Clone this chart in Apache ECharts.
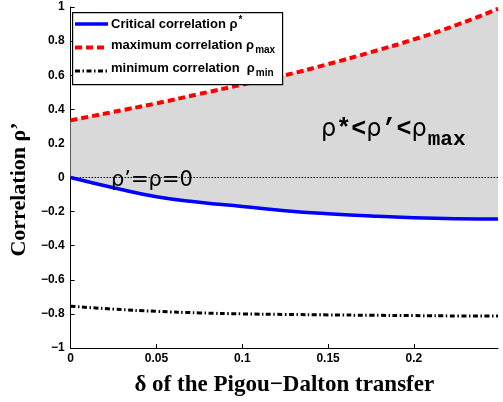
<!DOCTYPE html>
<html><head><meta charset="utf-8">
<script src="https://cdn.jsdelivr.net/npm/echarts@6/dist/echarts.min.js"></script>
<style>html,body{margin:0;padding:0;background:#fff}#c{width:503px;height:402px}</style>
</head><body><div id="c"></div>
<script>
// data
var deltas = [0, 0.025, 0.05, 0.075, 0.1, 0.125, 0.15, 0.175, 0.2, 0.225, 0.249];
var rhoCritical = [0, -0.06, -0.113, -0.145, -0.17, -0.195, -0.213, -0.226, -0.236, -0.242, -0.244];
var rhoMax = [0.335, 0.385, 0.435, 0.49, 0.545, 0.60, 0.665, 0.735, 0.81, 0.895, 0.99];
var rhoMin = [-0.755, -0.772, -0.785, -0.794, -0.80, -0.803, -0.806, -0.808, -0.81, -0.812, -0.813];
var xTicks = [0, 0.05, 0.1, 0.15, 0.2];
var yTicks = [-1, -0.8, -0.6, -0.4, -0.2, 0, 0.2, 0.4, 0.6, 0.8, 1];

function pairs(ys){ return deltas.map(function(d,i){ return [d, ys[i]]; }); }

var chart = echarts.init(document.getElementById('c'), null, {renderer:'canvas'});
var lab = {color:'#000', fontWeight:'bold', fontSize:12, fontFamily:'Liberation Sans, Arial, sans-serif'};
var legendFont = 'bold 13px "Liberation Sans", Arial, sans-serif';
var subFont = 'bold 10px "Liberation Sans", Arial, sans-serif';

function bandRender(params, api){
  var pts = [];
  for (var i = 0; i < deltas.length; i++) pts.push(api.coord([deltas[i], rhoMax[i]]));
  for (var j = deltas.length - 1; j >= 0; j--) pts.push(api.coord([deltas[j], rhoCritical[j]]));
  return {type:'polygon', shape:{points:pts}, style:{fill:'#d9d9d9', stroke:null}, silent:true};
}

chart.setOption({
  animation:false,
  backgroundColor:'#fff',
  grid:{left:68, right:5, top:7, bottom:46, containLabel:false},
  xAxis:{type:'value', min:0, max:0.249, interval:0.05,
    name:'δ of the Pigou−Dalton transfer', nameLocation:'middle', nameGap:26,
    nameTextStyle:{color:'#000', fontWeight:'bold', fontSize:23, fontFamily:'Liberation Serif, Times New Roman, serif'},
    axisLine:{onZero:false, lineStyle:{color:'#000', width:1}},
    axisTick:{inside:true, length:4, lineStyle:{color:'#000'}},
    axisLabel:Object.assign({margin:5, showMaxLabel:false, formatter:function(v){ return xTicks.indexOf(+v.toFixed(3))>=0 ? String(+v.toFixed(3)) : ''; }}, lab),
    splitLine:{show:false}},
  yAxis:{type:'value', min:-1, max:1, interval:0.2,
    name:'Correlation ρ\u2019', nameLocation:'middle', nameGap:40,
    nameTextStyle:{color:'#000', fontWeight:'bold', fontSize:22, fontFamily:'Liberation Serif, Times New Roman, serif', padding:[0,24,0,0]},
    axisLine:{onZero:false, lineStyle:{color:'#000', width:1}},
    axisTick:{inside:true, length:4, lineStyle:{color:'#000'}},
    axisLabel:Object.assign({margin:6, formatter:function(v){ var r=+v.toFixed(2); return yTicks.indexOf(r)>=0 ? String(r).replace('-','\u2212') : ''; }}, lab),
    splitLine:{show:false}},
  series:[
    {type:'custom', data:[[0,0]], renderItem:bandRender, z:1, silent:true, clip:true},
    {type:'line', data:[], z:2,
      markLine:{silent:true, symbol:['none','none'], label:{show:false},
        lineStyle:{color:'#000', type:[1.5,1.5], width:1},
        data:[{yAxis:0}]}},
    {type:'line', name:'min', data:pairs(rhoMin), showSymbol:false, smooth:true, z:3,
      lineStyle:{color:'#000', width:3, type:[5,2.5,1.5,2.5], cap:'butt'}},
    {type:'line', name:'crit', data:pairs(rhoCritical), showSymbol:false, smooth:true, z:4,
      lineStyle:{color:'#0000ff', width:3.5}},
    {type:'line', name:'max', data:pairs(rhoMax), showSymbol:false, smooth:true, z:5,
      lineStyle:{color:'#ff0000', width:4, type:[7,4], cap:'butt'}}
  ],
  graphic:[
    {type:'rect', left:72, top:12, z:100, shape:{width:210, height:72},
      style:{fill:'#fff', stroke:'#000', lineWidth:1.2}},
    {type:'line', z:101, shape:{x1:75, y1:24, x2:108, y2:24}, style:{stroke:'#0000ff', lineWidth:3.5}},
    {type:'line', z:101, shape:{x1:75, y1:47.5, x2:108, y2:47.5}, style:{stroke:'#ff0000', lineWidth:4, lineDash:[7,4]}},
    {type:'line', z:101, shape:{x1:75, y1:71, x2:108, y2:71}, style:{stroke:'#000', lineWidth:3, lineDash:[5,2.5,1.5,2.5]}},
    {type:'text', z:101, left:111, top:15, style:{text:'{t|Critical correlation ρ}{sup|*}', rich:{
      t:{font:legendFont, fill:'#000'}, sup:{font:subFont, fill:'#000', padding:[0,0,9,1]}}}},
    {type:'text', z:101, left:111, top:39, style:{text:'{t|maximum correlation ρ}{sub|max}', rich:{
      t:{font:legendFont, fill:'#000'}, sub:{font:subFont, fill:'#000', padding:[9,0,0,1]}}}},
    {type:'text', z:101, left:111, top:62, style:{text:'{t|minimum correlation  ρ}{sub|min}', rich:{
      t:{font:legendFont, fill:'#000'}, sub:{font:subFont, fill:'#000', padding:[9,0,0,1]}}}},
    {type:'text', z:50, left:321, top:117, style:{text:'{r|ρ}{m|*<}{r|ρ}{m|\u2019<}{r|ρ}{sub|max}', rich:{
      r:{font:'24px "DejaVu Sans", sans-serif', fill:'#000'},
      m:{font:'bold 25px "Liberation Mono", "Courier New", monospace', fill:'#000'},
      sub:{font:'bold 21px "Liberation Mono", "Courier New", monospace', fill:'#000', padding:[20,0,0,1]}}}},
    {type:'text', z:50, left:111, top:170, style:{text:'{r|ρ}{m|\u2019=}{r|ρ}{m|=0}', rich:{
      r:{font:'21px "DejaVu Sans", sans-serif', fill:'#000'},
      m:{font:'21px "DejaVu Sans", sans-serif', fill:'#000'}}}}
  ]
});
</script></body></html>
